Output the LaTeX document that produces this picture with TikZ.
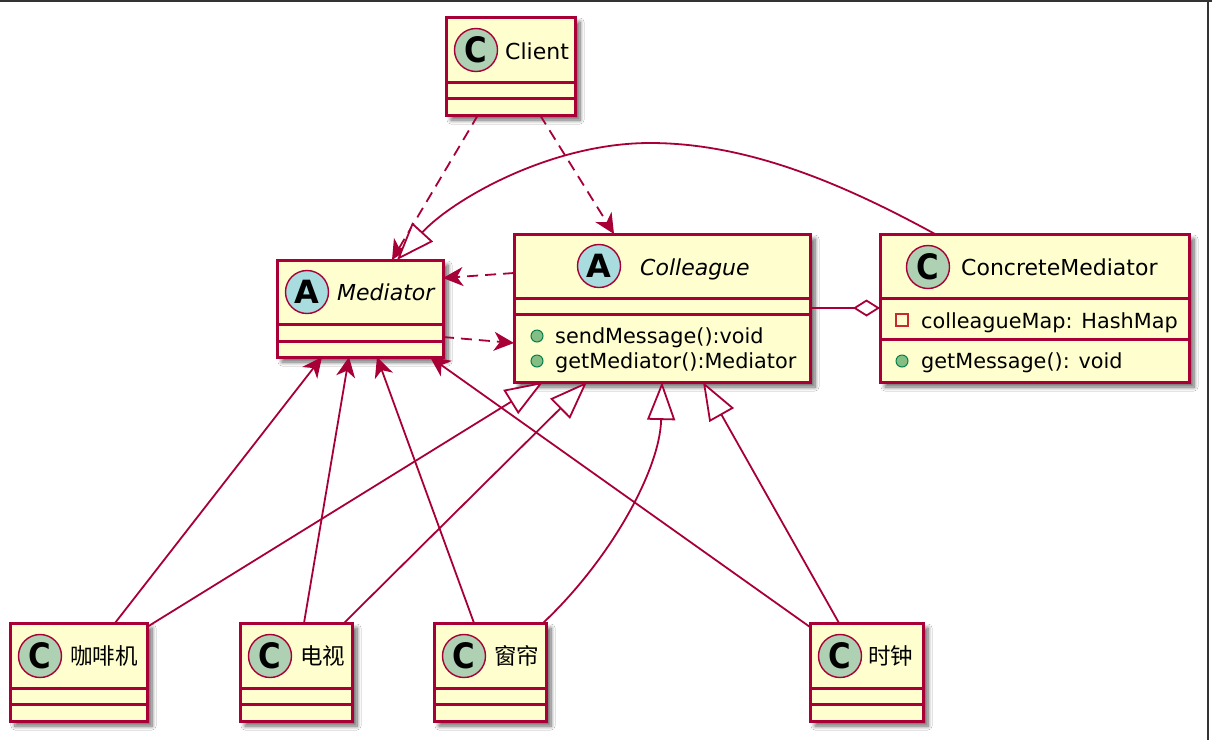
\documentclass[tikz,border=0pt]{standalone}
\usepackage{fontspec}
\setmainfont{DejaVu Sans}[ItalicFont={DejaVu Sans Oblique},BoldFont={DejaVu Sans Bold}]
\newfontfamily\cjk{Noto Sans CJK SC}
\usetikzlibrary{arrows.meta,shadows.blur,calc}
\definecolor{umlred}{HTML}{A80036}
\definecolor{umlfill}{HTML}{FEFECE}
\definecolor{cgreen}{HTML}{ADD1B2}
\definecolor{ablue}{HTML}{A9DCDF}
\definecolor{pubfill}{HTML}{84BE84}
\definecolor{publine}{HTML}{038048}
\definecolor{privline}{HTML}{C82930}
\definecolor{framecol}{HTML}{333333}
\tikzset{
  classbox/.style={rectangle, draw=umlred, fill=umlfill, line width=3pt, anchor=north west,
    inner sep=0pt, outer sep=0pt,
    blur shadow={shadow xshift=5pt, shadow yshift=-5pt, shadow blur radius=4pt, shadow blur steps=8, shadow opacity=60}},
  sepline/.style={draw=umlred, line width=3pt},
  iconbase/.style={circle, draw=umlred, line width=1.4pt, minimum size=43pt, inner sep=0pt},
  cicon/.style={iconbase, fill=cgreen, font=\fontsize{35}{35}\selectfont\bfseries},
  aicon/.style={iconbase, fill=ablue, font=\fontsize{32}{32}\selectfont\bfseries},
  clsname/.style={anchor=base west, inner sep=0pt, font=\fontsize{22}{26}\selectfont},
  aclsname/.style={anchor=base west, inner sep=0pt, font=\fontsize{22}{26}\selectfont\itshape},
  cjkname/.style={anchor=base west, inner sep=0pt, font=\fontsize{22.5}{26}\selectfont\cjk},
  memtext/.style={anchor=base west, inner sep=0pt, font=\fontsize{20.8}{24}\selectfont},
  pubdot/.style={circle, draw=publine, fill=pubfill, line width=1pt, minimum size=12pt, inner sep=0pt},
  privsq/.style={rectangle, draw=privline, line width=1.2pt, minimum size=12pt, inner sep=0pt},
  linkline/.style={draw=umlred, line width=1.8pt},
  depline/.style={linkline, dash pattern=on 11pt off 7pt, -{Stealth[length=20pt,width=19pt,inset=6pt]}},
  assocline/.style={linkline, -{Stealth[length=20pt,width=19pt,inset=6pt]}},
  extline/.style={linkline, -{Triangle[length=38pt,width=28pt,fill=white]}},
  aggline/.style={linkline, {Diamond[length=27pt,width=17pt,fill=white]}-},
}
\begin{document}
\begin{tikzpicture}[x=1pt,y=-1pt]
\useasboundingbox (0,0) rectangle (1212,740);
\fill[white] (0,0) rectangle (1212,740);

% ---------- class boxes ----------
\node[classbox, minimum width=129pt, minimum height=98pt] (client) at (446,17) {};
\draw[sepline] (446,82) -- (575,82);
\draw[sepline] (446,98) -- (575,98);
\node[cicon] (clientI) at (476,50) {\scalebox{0.88}[1]{C}};
\node[clsname] (clientT) at (505,59) {Client};

\node[classbox, minimum width=166pt, minimum height=97pt] (med) at (277,260) {};
\draw[sepline] (277,324) -- (443,324);
\draw[sepline] (277,341) -- (443,341);
\node[aicon] (medI) at (307,292) {A};
\node[aclsname] (medT) at (337,300) {Mediator};

\node[classbox, minimum width=296pt, minimum height=148pt] (coll) at (514,234) {};
\draw[sepline] (514,298) -- (810,298);
\draw[sepline] (514,314) -- (810,314);
\node[aicon] (collI) at (599,266) {A};
\node[aclsname] (collT) at (640,275) {Colleague};
\node[pubdot] (collD1) at (537,336) {};
\node[memtext] (collM1) at (555,343) {sendMessage():void};
\node[pubdot] (collD2) at (537,361) {};
\node[memtext] (collM2) at (555,368) {getMediator():Mediator};

\node[classbox, minimum width=309pt, minimum height=148pt] (cm) at (880,234) {};
\draw[sepline] (880,298) -- (1189,298);
\draw[sepline] (880,339) -- (1189,339);
\node[cicon] (cmI) at (928,267) {\scalebox{0.88}[1]{C}};
\node[clsname] (cmT) at (961,275) {ConcreteMediator};
\node[privsq] (cmS) at (902,320) {};
\node[memtext] (cmF) at (921,328) {colleagueMap: HashMap};
\node[pubdot] (cmD) at (902,361) {};
\node[memtext] (cmM) at (921,368) {getMessage(): void};

\node[classbox, minimum width=137pt, minimum height=98pt] (coffee) at (10,623) {};
\draw[sepline] (10,688) -- (147,688);
\draw[sepline] (10,704) -- (147,704);
\node[cicon] (coffeeI) at (40,656) {\scalebox{0.88}[1]{C}};
\node[cjkname] (coffeeT) at (70,664) {咖啡机};

\node[classbox, minimum width=112pt, minimum height=98pt] (tv) at (240,623) {};
\draw[sepline] (240,688) -- (352,688);
\draw[sepline] (240,704) -- (352,704);
\node[cicon] (tvI) at (270,656) {\scalebox{0.88}[1]{C}};
\node[cjkname] (tvT) at (300,664) {电视};

\node[classbox, minimum width=112pt, minimum height=98pt] (curtain) at (434,623) {};
\draw[sepline] (434,688) -- (546,688);
\draw[sepline] (434,704) -- (546,704);
\node[cicon] (curtainI) at (464,656) {\scalebox{0.88}[1]{C}};
\node[cjkname] (curtainT) at (494,664) {窗帘};

\node[classbox, minimum width=113pt, minimum height=98pt] (clock) at (810,623) {};
\draw[sepline] (810,688) -- (923,688);
\draw[sepline] (810,704) -- (923,704);
\node[cicon] (clockI) at (840,656) {\scalebox{0.88}[1]{C}};
\node[cjkname] (clockT) at (868,664) {时钟};

% ---------- connectors ----------
\coordinate (cmbend) at (650,143);
\draw[depline] ([xshift=32pt]client.south west) -- ([xshift=115pt]med.north west);
\draw[depline] ([xshift=94pt]client.south west) -- ([xshift=100pt]coll.north west);
\draw[extline] ([xshift=55pt]cm.north west) .. controls +(-88,-48) and +(100,0) .. (cmbend)
   .. controls +(-100,0) and +(55,-60) .. ([xshift=120pt]med.north west);
\draw[depline] ([yshift=-39pt]coll.north west) -- ([yshift=-18pt]med.north east);
\draw[depline] ([yshift=-77pt]med.north east) -- ([yshift=-109pt]coll.north west);
\draw[aggline] ([yshift=-74pt]cm.north west) -- ([yshift=-74pt]coll.north east);

\draw[assocline] ([xshift=105pt]coffee.north west) -- ([xshift=45pt]med.south west);
\draw[assocline] ([xshift=64pt]tv.north west) -- ([xshift=72pt]med.south west);
\draw[assocline] ([xshift=40pt]curtain.north west) -- ([xshift=100pt]med.south west);
\draw[assocline] ([yshift=-4pt]clock.north west) -- ([xshift=153pt]med.south west);

\draw[extline] ([yshift=-4pt]coffee.north east) -- ([xshift=29pt]coll.south west);
\draw[extline] ([xshift=104pt]tv.north west) -- ([xshift=73pt]coll.south west);
\draw[extline] ([xshift=109pt]curtain.north west) .. controls +(67,-63) and +(-2,88) .. ([xshift=148pt]coll.south west);
\draw[extline] ([xshift=29pt]clock.north west) -- ([xshift=189pt]coll.south west);

% ---------- window frame ----------
\draw[framecol, line width=2.5pt] (0,1.2) -- (1212,1.2);
\draw[framecol, line width=2.5pt] (1208,0) -- (1208,740);
\end{tikzpicture}
\end{document}
